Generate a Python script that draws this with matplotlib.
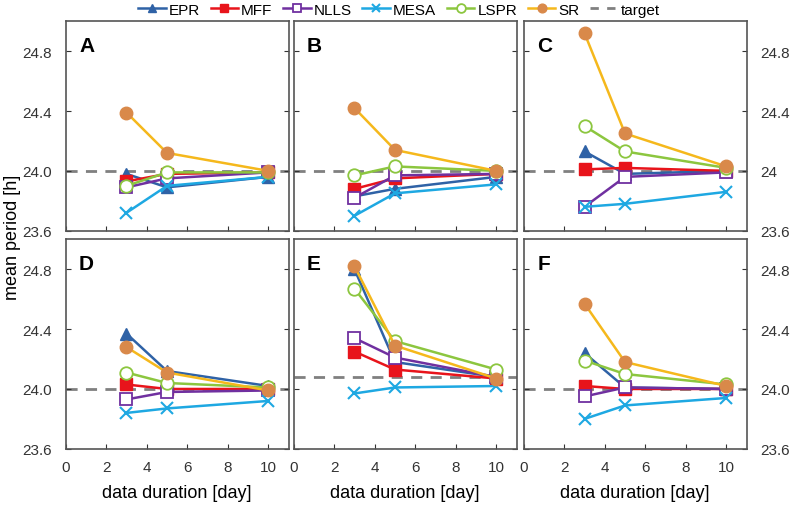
import matplotlib
matplotlib.use("Agg")
import matplotlib.pyplot as plt
from matplotlib.lines import Line2D

plt.rcParams['font.family'] = ['Liberation Sans', 'DejaVu Sans']

durations = [3, 5, 10]
panels = ["A", "B", "C", "D", "E", "F"]
methods = ["EPR", "MFF", "NLLS", "MESA", "LSPR", "SR"]

# mean period per method, one row per panel (A..F), values at 3, 5, 10 days
epr = [[23.98, 23.89, 23.96], [23.83, 23.88, 23.96], [24.13, 23.98, 24.00],
       [24.37, 24.12, 24.02], [24.80, 24.18, 24.08], [24.24, 24.01, 24.00]]
mff = [[23.93, 23.98, 23.99], [23.88, 23.95, 23.98], [24.01, 24.02, 24.00],
       [24.03, 24.00, 24.00], [24.25, 24.13, 24.07], [24.02, 24.00, 24.00]]
nlls = [[23.89, 23.95, 23.99], [23.82, 23.97, 23.98], [23.76, 23.96, 23.99],
        [23.93, 23.98, 23.99], [24.34, 24.21, 24.08], [23.95, 24.01, 24.00]]
mesa = [[23.72, 23.90, 23.96], [23.70, 23.85, 23.91], [23.76, 23.78, 23.86],
        [23.84, 23.87, 23.92], [23.97, 24.01, 24.02], [23.80, 23.89, 23.94]]
lspr = [[23.90, 23.99, 23.99], [23.97, 24.03, 24.00], [24.30, 24.13, 24.02],
        [24.11, 24.04, 24.01], [24.67, 24.32, 24.13], [24.19, 24.10, 24.03]]
sr = [[24.39, 24.12, 24.00], [24.42, 24.14, 24.00], [24.92, 24.25, 24.03],
      [24.28, 24.11, 23.99], [24.82, 24.29, 24.07], [24.57, 24.18, 24.02]]
target = [24.0, 24.0, 24.0, 24.0, 24.08, 24.0]

yticks = [23.6, 24.0, 24.4, 24.8]
left_labels = ["23.6", "24.0", "24.4", "24.8"]
labels_c = ["23.6", "24", "24.4", "24.8"]
labels_f = ["23.6", "24.0", "24.4", "24.8"]

series = {"EPR": epr, "MFF": mff, "NLLS": nlls, "MESA": mesa, "LSPR": lspr, "SR": sr}
styles = {
    "EPR": dict(color="#2F62A6", marker="^", mfc="#2F62A6", mec="#2F62A6", ms=8),
    "MFF": dict(color="#E8141B", marker="s", mfc="#E8141B", mec="#E8141B", ms=8),
    "NLLS": dict(color="#7030A0", marker="s", mfc="white", mec="#7030A0", ms=9, mew=1.3),
    "MESA": dict(color="#1EA8E2", marker="x", mfc="#1EA8E2", mec="#1EA8E2", ms=9, mew=1.5),
    "LSPR": dict(color="#8CC63F", marker="o", mfc="white", mec="#8CC63F", ms=9, mew=1.3),
    "SR": dict(color="#F5B81C", marker="o", mfc="#D9894A", mec="#D9894A", ms=9),
}

fig = plt.figure(figsize=(7.9, 5.06), dpi=100)

lefts = [0.0832, 0.3718, 0.663]
bottoms = [0.542, 0.111]
w, h = 0.282, 0.414

for i, p in enumerate(panels):
    r, c = divmod(i, 3)
    ax = fig.add_axes([lefts[c], bottoms[r], w, h])
    ax.axhline(target[i], color="#808080", ls=(0, (4, 3)), lw=2, zorder=1)
    for m in methods:
        ax.plot(durations, series[m][i], lw=1.8, zorder=3, **styles[m])
    ax.set_xlim(0, 11)
    ax.set_ylim(23.6, 25.0)
    ax.set_xticks([0, 2, 4, 6, 8, 10])
    ax.set_yticks(yticks)
    ax.tick_params(direction="in", length=3.5, left=True, right=True,
                   labelleft=False, labelbottom=False, labelsize=11, colors="#333333")
    ax.tick_params(axis="x", pad=8)
    ax.tick_params(axis="y", pad=10)
    for s in ax.spines.values():
        s.set_color("#555555")
        s.set_linewidth(1.2)
    if r == 1:
        ax.tick_params(labelbottom=True)
        ax.set_xlabel("data duration [day]", fontsize=13, labelpad=7)
    if c == 0:
        ax.tick_params(labelleft=True)
        ax.set_yticklabels(left_labels)
    if c == 2:
        ax.tick_params(labelright=True)
        ax.set_yticklabels(labels_c if r == 0 else labels_f)
    ax.text(0.06, 0.93, p, transform=ax.transAxes, fontsize=15,
            fontweight="bold", va="top", ha="left")

fig.text(0.005, 0.53, "mean period [h]", rotation=90, va="center", ha="left", fontsize=13)

handles = [Line2D([], [], lw=1.8, **styles[m]) for m in methods]
handles.append(Line2D([], [], color="#808080", ls=(0, (3, 3)), lw=2))
fig.legend(handles, methods + ["target"], loc="center", bbox_to_anchor=(0.505, 0.979),
           ncol=7, frameon=False, fontsize=11, handlelength=1.8, handletextpad=0.2,
           columnspacing=0.7, markerscale=0.7, borderpad=0)

fig.savefig("out.png", dpi=100)
